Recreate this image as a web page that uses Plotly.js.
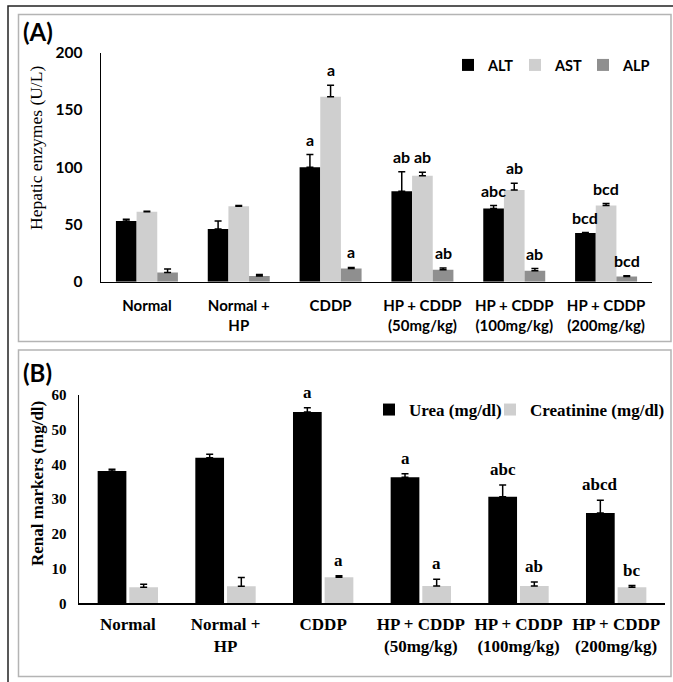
<!DOCTYPE html>
<html>
<head>
<meta charset="utf-8">
<script src="https://cdn.plot.ly/plotly-3.0.1.min.js"></script>
<style>
html,body{margin:0;padding:0;background:#fff;}
#chart{width:673px;height:682px;}
</style>
</head>
<body>
<div id="chart"></div>
<script>
// ---- Data ----
const groups = ['Normal', 'Normal +<br>HP', 'CDDP', 'HP + CDDP<br>(50mg/kg)', 'HP + CDDP<br>(100mg/kg)', 'HP + CDDP<br>(200mg/kg)'];

// Panel A: hepatic enzymes (U/L)
const altMean = [53, 46, 100, 79, 64, 42.5];
const altErr  = [1.5, 7, 11, 17, 2.5, 0.4];
const astMean = [61, 66, 161.5, 92.5, 80, 66.5];
const astErr  = [0.5, 0.5, 10, 3, 6, 1.8];
const alpMean = [8, 5, 11.5, 10.5, 9.5, 4.5];
const alpErr  = [3, 1.2, 1, 1.5, 2, 0.8];
const altSig = ['', '', 'a', 'ab', 'abc', 'bcd'];
const astSig = ['', '', 'a', 'ab', 'ab', 'bcd'];
const alpSig = ['', '', 'a', 'ab', 'ab', 'bcd'];
const titleA = 'Hepatic enzymes (U/L)';

// Panel B: renal markers (mg/dl)
const ureaMean  = [38.1, 41.9, 55.1, 36.3, 30.7, 26.0];
const ureaErr   = [0.5, 1, 1.2, 1, 3.4, 3.7];
const creatMean = [4.6, 4.9, 7.5, 5.0, 5.0, 4.6];
const creatErr  = [0.9, 2.5, 0.4, 1.9, 1.1, 0.5];
const ureaSig  = ['', '', 'a', 'a', 'abc', 'abcd'];
const creatSig = ['', '', 'a', 'a', 'ab', 'bc'];
const titleB = 'Renal markers (mg/dl)';

// ---- Styling ----
const W = 673, H = 682;
const px = v => v / W;
const py = v => 1 - v / H;
const SANS = 'Lato, "Open Sans", sans-serif';
const SERIF = '"Liberation Serif", "DejaVu Serif", serif';
const BLACK = '#000000', LIGHT = '#cfcfcf', MID = '#8f8f8f';

const wA = 0.225;
const offA = [-0.3375, -0.1125, 0.1125];
const wB = 0.294;
const offB = [-0.309, 0.015];

function barTrace(name, y, err, color, off, w, xa, ya, legend) {
  return {
    type: 'bar', name: name, x: groups, y: y,
    xaxis: xa, yaxis: ya, legend: legend,
    width: w, offset: off,
    marker: {color: color, line: {width: 0}},
    error_y: {type: 'data', symmetric: false, array: err, color: '#000', thickness: 1.5, width: 3.5},
    hoverinfo: 'skip'
  };
}

const traces = [
  barTrace('ALT', altMean, altErr, BLACK, offA[0], wA, 'x', 'y', 'legend'),
  barTrace('AST', astMean, astErr, LIGHT, offA[1], wA, 'x', 'y', 'legend2'),
  barTrace('ALP', alpMean, alpErr, MID, offA[2], wA, 'x', 'y', 'legend3'),
  barTrace('Urea (mg/dl)', ureaMean, ureaErr, BLACK, offB[0], wB, 'x2', 'y2', 'legend4'),
  barTrace('Creatinine (mg/dl)', creatMean, creatErr, LIGHT, offB[1], wB, 'x2', 'y2', 'legend5')
];

const annotations = [];
function addSig(sig, mean, err, off, w, xr, yr, font) {
  sig.forEach((s, i) => {
    if (!s) return;
    annotations.push({
      xref: xr, yref: yr, x: i + off + w / 2, y: mean[i] + err[i],
      text: s, showarrow: false, xanchor: 'center', yanchor: 'bottom', yshift: 4,
      font: font
    });
  });
}
const sigFontA = {family: SANS, size: 16, color: '#000', weight: 'bold'};
const sigFontB = {family: SERIF, size: 17, color: '#000', weight: 'bold'};
addSig(altSig, altMean, altErr, offA[0], wA, 'x', 'y', sigFontA);
addSig(astSig, astMean, astErr, offA[1], wA, 'x', 'y', sigFontA);
addSig(alpSig, alpMean, alpErr, offA[2], wA, 'x', 'y', sigFontA);
addSig(ureaSig, ureaMean, ureaErr, offB[0], wB, 'x2', 'y2', sigFontB);
addSig(creatSig, creatMean, creatErr, offB[1], wB, 'x2', 'y2', sigFontB);

// panel letters
annotations.push({xref: 'paper', yref: 'paper', x: px(21), y: py(32), xanchor: 'left', yanchor: 'middle',
  text: '(A)', showarrow: false, font: {family: SANS, size: 24, color: '#000', weight: 'bold'}});
annotations.push({xref: 'paper', yref: 'paper', x: px(21), y: py(372), xanchor: 'left', yanchor: 'middle',
  text: '(B)', showarrow: false, font: {family: SANS, size: 24, color: '#000', weight: 'bold'}});
// y-axis titles
annotations.push({xref: 'paper', yref: 'paper', x: px(36), y: py(148), xanchor: 'center', yanchor: 'middle',
  textangle: -90, text: titleA, showarrow: false, font: {family: SERIF, size: 17.5, color: '#000'}});
annotations.push({xref: 'paper', yref: 'paper', x: px(37), y: py(484), xanchor: 'center', yanchor: 'middle',
  textangle: -90, text: titleB, showarrow: false, font: {family: SERIF, size: 17, color: '#000', weight: 'bold'}});

const shapes = [
  {type: 'rect', xref: 'paper', yref: 'paper', x0: px(8), x1: px(690), y0: py(700), y1: py(6),
   line: {color: '#222', width: 1.5}},
  {type: 'rect', xref: 'paper', yref: 'paper', x0: px(18.5), x1: px(671), y0: py(341.5), y1: py(14.5),
   line: {color: '#b4b4b4', width: 1.5}},
  {type: 'rect', xref: 'paper', yref: 'paper', x0: px(18.5), x1: px(671), y0: py(676.5), y1: py(350),
   line: {color: '#b4b4b4', width: 1.5}}
];

function legendAt(x, y, font) {
  return {orientation: 'h', x: px(x), xanchor: 'left', y: py(y), yanchor: 'middle',
    bgcolor: 'rgba(0,0,0,0)', font: font};
}
const legFontA = {family: SANS, size: 14.5, color: '#000', weight: 'bold'};
const legFontB = {family: SERIF, size: 17, color: '#000', weight: 'bold'};

const layout = {
  width: W, height: H,
  margin: {l: 0, r: 0, t: 0, b: 0},
  paper_bgcolor: '#fff', plot_bgcolor: 'rgba(0,0,0,0)',
  barmode: 'overlay',
  showlegend: true,
  xaxis: {
    domain: [px(101), px(652)], anchor: 'y', type: 'category',
    showline: true, linecolor: '#000', linewidth: 1.5, ticks: '', showgrid: false, zeroline: false,
    ticklabelstandoff: 10,
    tickfont: {family: SANS, size: 15, color: '#000', weight: 'bold'}
  },
  yaxis: {
    domain: [py(281.7), py(52.7)], anchor: 'x', range: [0, 200], dtick: 50,
    showline: true, linecolor: '#000', linewidth: 1.5, ticks: '', showgrid: false, zeroline: false,
    ticklabelstandoff: 14,
    tickfont: {family: SANS, size: 15.5, color: '#000', weight: 'bold'}
  },
  xaxis2: {
    domain: [px(79), px(665)], anchor: 'y2', type: 'category',
    showline: true, linecolor: '#000', linewidth: 1.5, ticks: '', showgrid: false, zeroline: false,
    ticklabelstandoff: 5,
    tickfont: {family: SERIF, size: 17, color: '#000', weight: 'bold'}
  },
  yaxis2: {
    domain: [py(603.3), py(395)], anchor: 'x2', range: [0, 60], dtick: 10,
    showline: true, linecolor: '#000', linewidth: 1.5, ticks: '', showgrid: false, zeroline: false,
    ticklabelstandoff: 8,
    tickfont: {family: SERIF, size: 15, color: '#000', weight: 'bold'}
  },
  legend: legendAt(448, 65, legFontA),
  legend2: legendAt(515, 65, legFontA),
  legend3: legendAt(583, 65, legFontA),
  legend4: legendAt(369, 410, legFontB),
  legend5: legendAt(490, 410, legFontB),
  annotations: annotations,
  shapes: shapes
};

Plotly.newPlot('chart', traces, layout, {displayModeBar: false, staticPlot: true});
</script>
</body>
</html>
